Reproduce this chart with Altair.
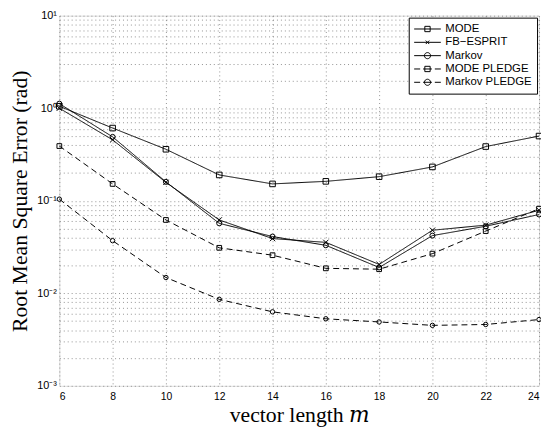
import altair as alt
import pandas as pd

# ---- data ----
m_vals = [6, 8, 10, 12, 14, 16, 18, 20, 22, 24]
series_names = ["MODE", "FB\u2212ESPRIT", "Markov", "MODE PLEDGE", "Markov PLEDGE"]
mode = [1.05, 0.61, 0.36, 0.19, 0.152, 0.162, 0.182, 0.232, 0.385, 0.50]
fb_esprit = [1.0, 0.455, 0.158, 0.062, 0.039, 0.0355, 0.0205, 0.048, 0.0545, 0.079]
markov = [1.12, 0.49, 0.16, 0.057, 0.041, 0.033, 0.019, 0.042, 0.053, 0.071]
mode_pledge = [0.39, 0.152, 0.062, 0.031, 0.0258, 0.0186, 0.0182, 0.0268, 0.047, 0.082]
markov_pledge = [0.104, 0.037, 0.0148, 0.0086, 0.0063, 0.0053, 0.0049, 0.0045, 0.0046, 0.0052]

x_ticks = [6, 8, 10, 12, 14, 16, 18, 20, 22, 24]
y_ticks = [k * 10.0 ** d for d in [-3, -2, -1, 0] for k in range(1, 10)] + [10.0]

all_series = [mode, fb_esprit, markov, mode_pledge, markov_pledge]
rows = []
for name, vals in zip(series_names, all_series):
    for m, v in zip(m_vals, vals):
        rows.append({"m": m, "rmse": v, "series": name})
df = pd.DataFrame(rows)

# marker shapes on the plot
X_PATH = "M-1,-1L1,1M-1,1L1,-1"
plot_shapes = ["square", X_PATH, "circle", "square", "circle"]
plot_sizes = [32, 20, 34, 32, 34]

# legend symbols: line segment + marker
SQ = "M-0.2,-0.2L0.2,-0.2L0.2,0.2L-0.2,0.2Z"
CI = "M0.23,0A0.23,0.23 0 1,1 -0.23,0A0.23,0.23 0 1,1 0.23,0"
XX = "M-0.13,-0.13L0.13,0.13M-0.13,0.13L0.13,-0.13"
SOLID = "M-1,0L1,0"
DASHED = "M-1,0L-0.55,0M-0.33,0L0.33,0M0.55,0L1,0"
legend_shapes = [SOLID + SQ, SOLID + XX, SOLID + CI, DASHED + SQ, DASHED + CI]

x_enc = alt.X(
    "m:Q",
    scale=alt.Scale(domain=[6, 24], nice=False),
    axis=alt.Axis(
        values=x_ticks,
        title="vector length \U0001D45A",
        titleFont="Liberation Serif, DejaVu Serif",
        titleFontSize=22,
        titleFontWeight="normal",
        titleColor="black",
        titlePadding=3,
        labelFont="Liberation Sans",
        labelFontSize=10.5,
        labelColor="black",
        labelPadding=6,
        ticks=False,
        domain=False,
        grid=True,
        gridDash=[1, 3],
        gridColor="#777777",
        gridWidth=0.8,
    ),
)

label_expr = (
    "datum.value == 10 ? '10\u00b9' : datum.value == 1 ? '10\u2070' : "
    "datum.value == 0.1 ? '10\u207b\u00b9' : datum.value == 0.01 ? '10\u207b\u00b2' : "
    "datum.value == 0.001 ? '10\u207b\u00b3' : ''"
)

y_enc = alt.Y(
    "rmse:Q",
    scale=alt.Scale(type="log", domain=[0.001, 10], nice=False),
    axis=alt.Axis(
        values=y_ticks,
        labelExpr=label_expr,
        title="Root Mean Square Error (rad)",
        titleFont="Liberation Serif",
        titleFontSize=22,
        titleFontWeight="normal",
        titleColor="black",
        titlePadding=5,
        labelFont="Liberation Sans",
        labelFontSize=11,
        labelColor="black",
        labelPadding=3,
        labelOverlap=False,
        ticks=False,
        domain=False,
        grid=True,
        gridDash=[1, 3],
        gridColor="#777777",
        gridWidth=0.8,
    ),
)

lines = alt.Chart(df).mark_line(color="black", strokeWidth=1).encode(
    x=x_enc,
    y=y_enc,
    detail="series:N",
    strokeDash=alt.StrokeDash(
        "series:N",
        scale=alt.Scale(domain=series_names, range=[[1, 0], [1, 0], [1, 0], [6, 4], [6, 4]]),
        legend=None,
    ),
)

points = alt.Chart(df).mark_point(color="black", filled=False, strokeWidth=1, opacity=1).encode(
    x="m:Q",
    y="rmse:Q",
    shape=alt.Shape("series:N", scale=alt.Scale(domain=series_names, range=plot_shapes), legend=None),
    size=alt.Size("series:N", scale=alt.Scale(domain=series_names, range=plot_sizes), legend=None),
)

legend_layer = (
    alt.Chart(df)
    .transform_filter("datum.m < 0")
    .mark_point(color="black", filled=False, strokeWidth=1, opacity=1)
    .encode(
        x="m:Q",
        y="rmse:Q",
        shape=alt.Shape(
            "series:N",
            scale=alt.Scale(domain=series_names, range=legend_shapes),
            legend=alt.Legend(
                title=None,
                orient="top-right",
                offset=2,
                padding=5,
                fillColor="white",
                strokeColor="black",
                symbolSize=729,
                symbolStrokeColor="black",
                symbolFillColor="transparent",
                symbolStrokeWidth=1,
                symbolOpacity=1,
                clipHeight=13,
                rowPadding=0.5,
                labelFont="Liberation Sans",
                labelFontSize=11.5,
                labelColor="black",
                labelOffset=4,
                labelLimit=200,
            ),
        ),
    )
)

chart = (
    alt.layer(lines, points, legend_layer)
    .resolve_scale(shape="independent")
    .properties(
        width=486,
        height=375,
        autosize="none",
        padding={"left": 52, "top": 5, "right": 2, "bottom": 42},
    )
    .configure_view(stroke="black", strokeWidth=1)
    .configure(background="white")
)

chart.save("out.html", embed_options={"renderer": "svg", "actions": False})
